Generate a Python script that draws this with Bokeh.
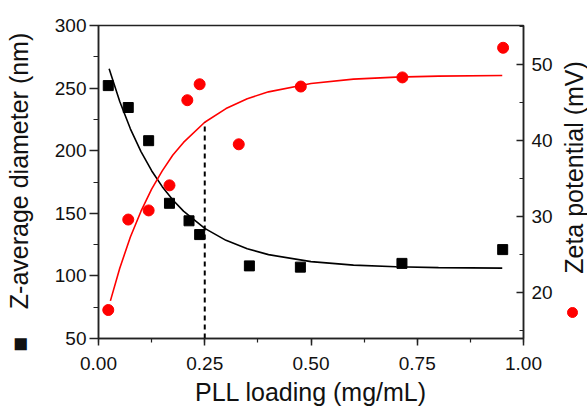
import math
from bokeh.plotting import figure
from bokeh.layouts import row, column
from bokeh.models import Range1d, LinearAxis, Label, SingleIntervalTicker
from bokeh.embed import file_html
from bokeh.resources import INLINE

# ---- data ----
pll_sq = [0.023, 0.070, 0.118, 0.167, 0.213, 0.238, 0.355, 0.475, 0.714, 0.951]
z_avg = [252, 234.5, 208, 158, 144, 133, 108, 107, 110, 121]

pll_ci = [0.023, 0.070, 0.118, 0.167, 0.209, 0.238, 0.330, 0.476, 0.715, 0.952]
zeta = [17.7, 29.6, 30.8, 34.1, 45.3, 47.4, 39.5, 47.1, 48.3, 52.2]

# fitted curves
fit_z_x = [0.025, 0.05, 0.075, 0.10, 0.125, 0.15, 0.175, 0.20, 0.25, 0.30, 0.35, 0.40,
           0.50, 0.60, 0.70, 0.80, 0.95]
fit_z_y = [265.4, 239.3, 217.5, 199.3, 184.0, 171.3, 160.6, 151.7, 138.0, 128.4, 121.7,
           117.0, 111.4, 108.6, 107.3, 106.6, 106.2]

fit_zeta_x = [0.028, 0.05, 0.075, 0.10, 0.125, 0.15, 0.175, 0.20, 0.25, 0.30, 0.35, 0.40,
              0.50, 0.60, 0.70, 0.80, 0.95]
fit_zeta_y = [18.9, 23.2, 27.3, 30.7, 33.6, 36.0, 38.1, 39.75, 42.4, 44.2, 45.5, 46.4,
              47.5, 48.07, 48.34, 48.47, 48.56]

marker_x = [0.25]
marker_top = [42.4]

x_tick_labels = {0.0: "0.00", 0.25: "0.25", 0.5: "0.50", 0.75: "0.75", 1.0: "1.00"}

NB = "\u00a0"
left_title = "\u25a0" + NB * 4 + "Z-average diameter (nm)" + NB * 3
right_title = "Zeta potential (mV)"
bottom_title = "PLL loading (mg/mL)"

FONT = "Liberation Sans"
RED = "#ff0000"
AX = "#222222"
TXT = "#111111"

H_TOP = 380          # height of the plot row
H_BOT = 26           # strip holding the x-axis title
FRAME_TOP, FRAME_BOTTOM = 25, 338
MAIN_W, SIDE_W = 558, 29
B_LEFT, B_RIGHT = 98, 35

# ---------------- main plot ----------------
p = figure(width=MAIN_W, height=H_TOP, output_backend="svg", toolbar_location=None,
           x_range=Range1d(0, 1), y_range=Range1d(50, 300),
           min_border_left=B_LEFT, min_border_right=B_RIGHT,
           min_border_top=FRAME_TOP, min_border_bottom=H_TOP - FRAME_BOTTOM)
p.extra_y_ranges = {"zeta": Range1d(13.95, 55.13)}

p.xgrid.visible = False
p.ygrid.visible = False
p.outline_line_color = AX
p.outline_line_width = 1.5


def style_axis(ax):
    ax.major_label_text_font = FONT
    ax.major_label_text_font_size = "19px"
    ax.major_label_text_color = TXT
    ax.axis_line_color = AX
    ax.axis_line_width = 1.5
    ax.major_tick_line_color = AX
    ax.major_tick_line_width = 1.5
    ax.minor_tick_line_color = AX
    ax.minor_tick_line_width = 1.2
    ax.axis_label_text_font = FONT
    ax.axis_label_text_font_size = "25px"
    ax.axis_label_text_font_style = "normal"
    ax.axis_label_text_color = TXT


xa = p.xaxis[0]
style_axis(xa)
xa.ticker = SingleIntervalTicker(interval=0.25, num_minor_ticks=2)
xa.major_label_overrides = x_tick_labels
xa.major_tick_out = 7
xa.major_tick_in = 0
xa.minor_tick_out = 4
xa.minor_tick_in = 0
xa.major_label_standoff = 11

ya = p.yaxis[0]
style_axis(ya)
ya.ticker = SingleIntervalTicker(interval=50, num_minor_ticks=2)
ya.major_tick_out = 9
ya.major_tick_in = 0
ya.minor_tick_out = 5
ya.minor_tick_in = 0
ya.major_label_standoff = 3
ya.axis_label = left_title
ya.axis_label_standoff = 19

ra = LinearAxis(y_range_name="zeta",
                ticker=SingleIntervalTicker(interval=10, num_minor_ticks=2))
style_axis(ra)
ra.major_tick_out = 0
ra.major_tick_in = 7
ra.minor_tick_out = 0
ra.minor_tick_in = 4
ra.major_label_standoff = 8
p.add_layout(ra, "right")

# fitted lines
p.line(fit_z_x, fit_z_y, line_color="black", line_width=1.6)
p.line(fit_zeta_x, fit_zeta_y, line_color=RED, line_width=1.6, y_range_name="zeta")

# dashed marker line
p.segment(x0=marker_x, y0=[13.95], x1=marker_x, y1=marker_top, y_range_name="zeta",
          line_color="black", line_width=2, line_dash="5 4")

# data points
p.scatter(pll_sq, z_avg, marker="square", size=10, fill_color="black", line_color="black")
p.scatter(pll_ci, zeta, marker="circle", size=11, fill_color=RED, line_color=RED,
          y_range_name="zeta")


def blank(fig):
    fig.axis.visible = False
    fig.xgrid.visible = False
    fig.ygrid.visible = False
    fig.outline_line_color = None
    return fig


# ---------------- right strip: title of the right axis ----------------
right = blank(figure(width=SIDE_W, height=H_TOP, output_backend="svg", toolbar_location=None,
                     title=None,
                     x_range=Range1d(MAIN_W, MAIN_W + SIDE_W),
                     y_range=Range1d(FRAME_BOTTOM, FRAME_TOP),
                     min_border_left=0, min_border_right=0,
                     min_border_top=FRAME_TOP, min_border_bottom=H_TOP - FRAME_BOTTOM))
right.add_layout(Label(x=573, y=167, text=right_title, angle=math.pi / 2,
                       text_align="center", text_baseline="middle",
                       text_font=FONT, text_font_size="25px", text_color=TXT))
right.scatter([572], [312], marker="circle", size=10, fill_color=RED, line_color=RED)

# ---------------- bottom strip: title of the x axis ----------------
bottom = blank(figure(width=MAIN_W, height=H_BOT, output_backend="svg", toolbar_location=None,
                      title=None,
                      x_range=Range1d(0, 1), y_range=Range1d(H_TOP + H_BOT, H_TOP),
                      min_border_left=B_LEFT, min_border_right=B_RIGHT,
                      min_border_top=0, min_border_bottom=0))
bottom.add_layout(Label(x=0.5, y=391, text=bottom_title,
                        text_align="center", text_baseline="alphabetic",
                        text_font=FONT, text_font_size="25px", text_color=TXT))

layout = column(row(p, right, spacing=0), bottom, spacing=0)

open("out.html", "w").write(file_html(layout, INLINE))
